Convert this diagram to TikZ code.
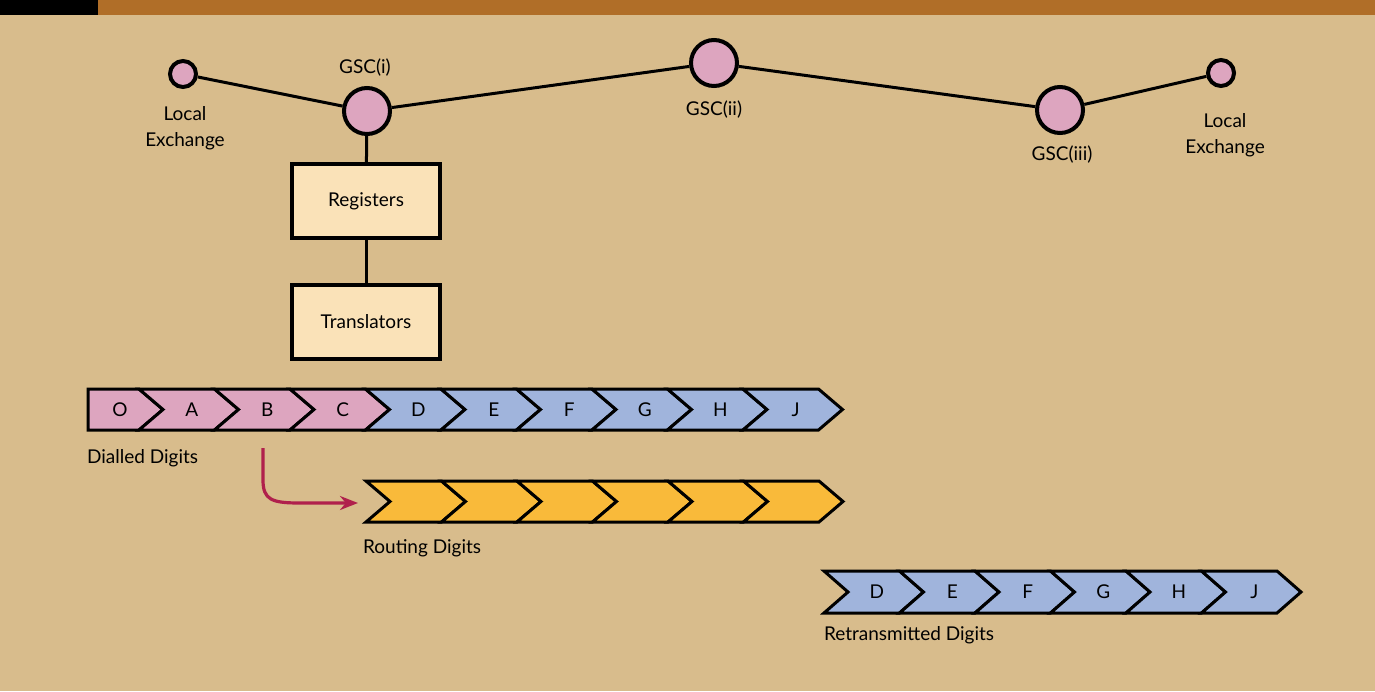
\documentclass[tikz,border=0pt]{standalone}
\usepackage{fontspec}
\setmainfont{Lato}
\usepackage{xcolor}
\usetikzlibrary{arrows.meta}
\definecolor{vtan}{HTML}{D8BC8C}
\definecolor{vbar}{HTML}{B06E28}
\definecolor{vpink}{HTML}{DDA5BF}
\definecolor{vblue}{HTML}{A0B4DC}
\definecolor{vorange}{HTML}{F9BA3A}
\definecolor{vbox}{HTML}{FAE2B8}
\definecolor{vcrimson}{HTML}{B0204C}

\tikzset{
	station/.style={circle, draw=black, line width=2pt, fill=vpink, inner sep=0pt, minimum size=13pt},
	bigstation/.style={station, minimum size=23pt},
	unitbox/.style={draw=black, line width=1.6pt, fill=vbox, minimum width=74pt, minimum height=37pt},
	chevline/.style={draw=black, line width=1.5pt, line join=miter},
	link/.style={draw=black, line width=1.5pt},
}

\begin{document}
\begin{tikzpicture}[x=0.5pt, y=-0.5pt, font=\fontsize{9.5}{13}\selectfont]
		\fill[vtan] (0,0) rectangle (1375,691);
		\useasboundingbox (0,0) rectangle (1375,691);
		\fill[vbar] (0,0) rectangle (1375,15);
		\fill[black] (0,0) rectangle (98,15);
		% exchanges and centres
		\node[station] (lexa) at (183,74) {};
		\node[bigstation] (gsci) at (367,111) {};
		\node[bigstation] (gscii) at (714,63) {};
		\node[bigstation] (gsciii) at (1060,110) {};
		\node[station] (lexb) at (1221,73) {};
		\node[align=center] (lexalbl) at (185,128) {Local\\Exchange};
		\node (gscilbl) at (365,68) {GSC(i)};
		\node (gsciilbl) at (714,110) {GSC(ii)};
		\node (gsciiilbl) at (1062,155) {GSC(iii)};
		\node[align=center] (lexblbl) at (1225,135) {Local\\Exchange};
		\draw[link] (lexa) -- (gsci);
		\draw[link] (gsci) -- (gscii);
		\draw[link] (gscii) -- (gsciii);
		\draw[link] (gsciii) -- (lexb);
		% registers and translators
		\node[unitbox] (reg) at (366,201) {Registers};
		\node[unitbox] (trans) at (366,322) {Translators};
		\draw[link] (gsci) -- (reg);
		\draw[link] (reg) -- (trans);
		% dialled digits
		\draw[chevline, fill=vpink] (88,389) -- (139,389) -- (163,409.5) -- (139,430) -- (88,430) -- cycle;
		\node (d0) at (120,409.5) {O};
		\foreach \lbl/\col [count=\k] in {A/vpink, B/vpink, C/vpink, D/vblue, E/vblue, F/vblue, G/vblue, H/vblue, J/vblue} {
			\pgfmathsetmacro{\a}{139 + 75.5*(\k-1)}
			\pgfmathsetmacro{\b}{139 + 75.5*\k}
			\draw[chevline, fill=\col] (\a,389) -- (\b,389) -- ({\b+24},409.5) -- (\b,430) -- (\a,430) -- ({\a+24},409.5) -- cycle;
			\node (d\k) at ({(\a+\b)/2+15},409.5) {\lbl};
		}
		\node[anchor=west] (diallbl) at (80,458) {Dialled Digits};
		% routing digits
		\foreach \k in {1,...,6} {
			\pgfmathsetmacro{\a}{366 + 75.5*(\k-1)}
			\pgfmathsetmacro{\b}{366 + 75.5*\k}
			\draw[chevline, fill=vorange] (\a,481) -- (\b,481) -- ({\b+24},501.5) -- (\b,522) -- (\a,522) -- ({\a+24},501.5) -- cycle;
		}
		\node[anchor=west] (routlbl) at (356,548) {Routing Digits};
		% retransmitted digits
		\foreach \lbl [count=\k] in {D, E, F, G, H, J} {
			\pgfmathsetmacro{\a}{824 + 75.5*(\k-1)}
			\pgfmathsetmacro{\b}{824 + 75.5*\k}
			\draw[chevline, fill=vblue] (\a,571) -- (\b,571) -- ({\b+24},592) -- (\b,613) -- (\a,613) -- ({\a+24},592) -- cycle;
			\node (r\k) at ({(\a+\b)/2+15},592) {\lbl};
		}
		\node[anchor=west] (retrlbl) at (817,635) {Retransmitted Digits};
		% translation arrow
		\coordinate (bstart) at (263,448);
		\coordinate (rstart) at (358,503);
		\draw[vcrimson, line width=1.6pt, -{Stealth[length=9pt, width=7pt]}] (bstart) -- (263,480) .. controls (263,500) and (272,503) .. (300,503) -- (rstart);
	\end{tikzpicture}
\end{document}
